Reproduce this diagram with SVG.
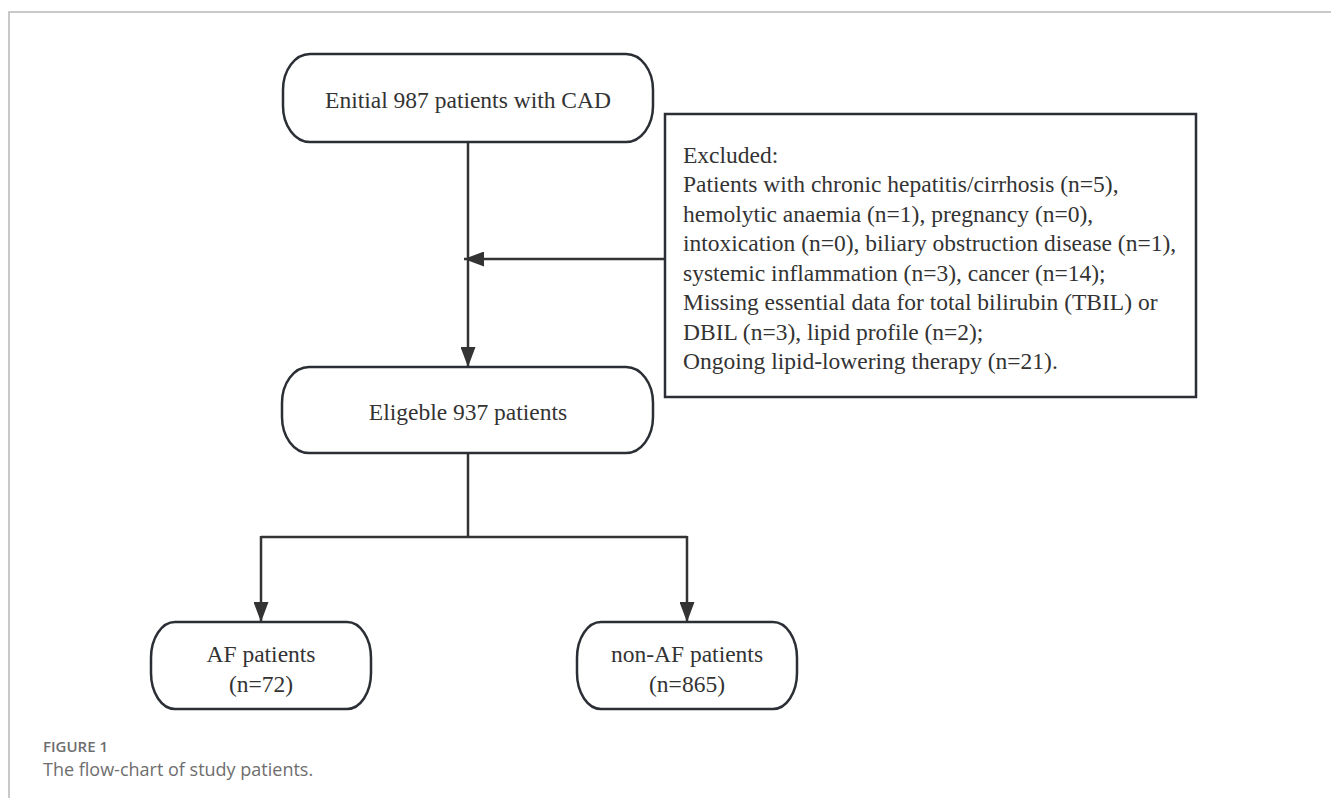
<svg xmlns="http://www.w3.org/2000/svg" width="1331" height="798" viewBox="0 0 1331 798">
  <style>
    .node { fill: #ffffff; stroke: #2b2f35; stroke-width: 2.5; }
    .lbl { font-family: "Liberation Serif", "Times New Roman", serif; font-size: 23.5px; fill: #333333; }
    .mid { text-anchor: middle; }
    .conn { fill: none; stroke: #333333; stroke-width: 2.5; }
    .frame { fill: none; stroke: #b8b8b8; stroke-width: 1.5; }
    .figlabel { font-family: "Open Sans", "Liberation Sans", sans-serif; font-size: 15px; font-weight: 600; fill: #6e6e6e; }
    .caption { font-family: "Open Sans", "Liberation Sans", sans-serif; font-size: 18px; fill: #6e6e6e; }
  </style>
  <defs>
    <marker id="arrow" markerUnits="userSpaceOnUse" markerWidth="20" markerHeight="15" refX="20" refY="7.5" orient="auto">
      <path d="M0,0 L20,7.5 L0,15 z" fill="#333333"/>
    </marker>
  </defs>
  <rect width="1331" height="798" fill="#ffffff"/>
  <g id="frame">
    <path class="frame" d="M9,798 V12 H1331"/>
  </g>
  <g id="connectors">
    <path class="conn" d="M468,142 V367" marker-end="url(#arrow)"/>
    <path class="conn" d="M665,259 H464" marker-end="url(#arrow)"/>
    <path class="conn" d="M468,453 V537"/>
    <path class="conn" d="M261,537 H687"/>
    <path class="conn" d="M261,536 V622" marker-end="url(#arrow)"/>
    <path class="conn" d="M687,536 V622" marker-end="url(#arrow)"/>
  </g>
  <g id="node-initial">
    <rect class="node" x="283" y="54" width="370" height="88" rx="27" ry="36"/>
    <text class="lbl mid" x="468" y="108">Enitial 987 patients with CAD</text>
  </g>
  <g id="node-excluded">
    <rect class="node" x="665" y="114" width="531" height="283"/>
    <text class="lbl" x="683" y="162.5">Excluded:</text>
    <text class="lbl" x="683" y="192">Patients with chronic hepatitis/cirrhosis (n=5),</text>
    <text class="lbl" x="683" y="221.5">hemolytic anaemia (n=1), pregnancy (n=0),</text>
    <text class="lbl" x="683" y="251">intoxication (n=0), biliary obstruction disease (n=1),</text>
    <text class="lbl" x="683" y="280.5">systemic inflammation (n=3), cancer (n=14);</text>
    <text class="lbl" x="683" y="310">Missing essential data for total bilirubin (TBIL) or</text>
    <text class="lbl" x="683" y="339.5">DBIL (n=3), lipid profile (n=2);</text>
    <text class="lbl" x="683" y="369">Ongoing lipid-lowering therapy (n=21).</text>
  </g>
  <g id="node-eligible">
    <rect class="node" x="282" y="367" width="371" height="86" rx="27" ry="36"/>
    <text class="lbl mid" x="468" y="420">Eligeble 937 patients</text>
  </g>
  <g id="node-af">
    <rect class="node" x="151" y="622" width="220" height="87" rx="24" ry="36"/>
    <text class="lbl mid" x="261" y="662">AF patients</text>
    <text class="lbl mid" x="261" y="692">(n=72)</text>
  </g>
  <g id="node-nonaf">
    <rect class="node" x="577" y="622" width="220" height="87" rx="24" ry="36"/>
    <text class="lbl mid" x="687" y="662">non-AF patients</text>
    <text class="lbl mid" x="687" y="692">(n=865)</text>
  </g>
  <g id="caption">
    <text class="figlabel" x="43" y="752">FIGURE 1</text>
    <text class="caption" x="43" y="776">The flow-chart of study patients.</text>
  </g>
</svg>
